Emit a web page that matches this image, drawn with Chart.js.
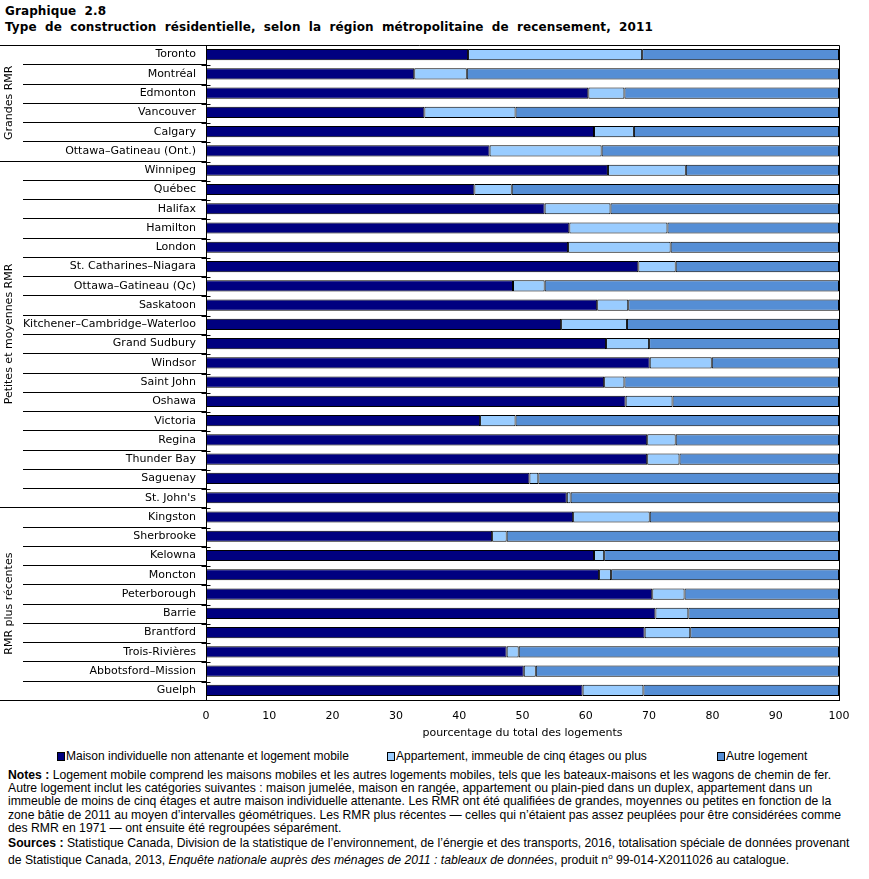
<!DOCTYPE html>
<html lang="fr">
<head>
<meta charset="utf-8">
<script src="https://cdn.jsdelivr.net/npm/chart.js@4.4.1/dist/chart.umd.min.js"></script>
<style>
  html, body { margin: 0; padding: 0; background: #fff; }
  body { width: 869px; height: 879px; position: relative; overflow: hidden; }
  #title { position: absolute; left: 5px; top: 3px; font: bold 12px "DejaVu Sans", Verdana, sans-serif; line-height: 16px; color: #000; word-spacing: 4px; letter-spacing: 0.1px; }
  #wrap { position: absolute; left: 0; top: 0; width: 869px; height: 745px; }
  #legend { position: absolute; top: 749px; left: 0; width: 869px; height: 16px; font: 12px "Liberation Sans", sans-serif; color: #000; }
  .li { position: absolute; top: 0; white-space: nowrap; }
  .sw { display: inline-block; width: 6px; height: 7px; border: 1px solid #000; margin-right: 1px; vertical-align: -1px; }
  #notes { position: absolute; left: 8px; top: 769px; font: 12.2px "Liberation Sans", sans-serif; line-height: 13.2px; color: #000; white-space: nowrap; }
  #notes p { margin: 0 0 2px 0; }
</style>
</head>
<body>
<div id="title">Graphique 2.8<br>Type de construction résidentielle, selon la région métropolitaine de recensement, 2011</div>
<div id="wrap"><canvas id="c" width="869" height="745"></canvas></div>
<div id="legend"></div>
<div id="notes">
<p><b>Notes :</b> Logement mobile comprend les maisons mobiles et les autres logements mobiles, tels que les bateaux-maisons et les wagons de chemin de fer.<br>
Autre logement inclut les catégories suivantes : maison jumelée, maison en rangée, appartement ou plain-pied dans un duplex, appartement dans un<br>
immeuble de moins de cinq étages et autre maison individuelle attenante. Les RMR ont été qualifiées de grandes, moyennes ou petites en fonction de la<br>
zone bâtie de 2011 au moyen d’intervalles géométriques. Les RMR plus récentes — celles qui n’étaient pas assez peuplées pour être considérées comme<br>
des RMR en 1971 — ont ensuite été regroupées séparément.</p>
<p><b>Sources :</b> Statistique Canada, Division de la statistique de l’environnement, de l’énergie et des transports, 2016, totalisation spéciale de données provenant<br>
de Statistique Canada, 2013, <i>Enquête nationale auprès des ménages de 2011 : tableaux de données</i>, produit n<sup style="font-size:8px">o</sup> 99-014-X2011026 au catalogue.</p>
</div>
<script>
const categories = [
  'Toronto', 'Montréal', 'Edmonton', 'Vancouver', 'Calgary', 'Ottawa–Gatineau (Ont.)',
  'Winnipeg', 'Québec', 'Halifax', 'Hamilton', 'London', 'St. Catharines–Niagara',
  'Ottawa–Gatineau (Qc)', 'Saskatoon', 'Kitchener–Cambridge–Waterloo', 'Grand Sudbury',
  'Windsor', 'Saint John', 'Oshawa', 'Victoria', 'Regina', 'Thunder Bay', 'Saguenay', "St. John's",
  'Kingston', 'Sherbrooke', 'Kelowna', 'Moncton', 'Peterborough', 'Barrie', 'Brantford',
  'Trois-Rivières', 'Abbotsford–Mission', 'Guelph'
];
const groupLabels = ['Grandes RMR', 'Petites et moyennes RMR', 'RMR plus récentes'];
const groupSizes = [6, 18, 10];

const seriesNames = [
  'Maison individuelle non attenante et logement mobile',
  'Appartement, immeuble de cinq étages ou plus',
  'Autre logement'
];
const maison = [41.4, 32.9, 60.4, 34.5, 61.3, 44.8,
  63.5, 42.4, 53.5, 57.4, 57.2, 68.3, 48.5, 61.8, 56.1, 63.2, 70.1, 62.9, 66.3, 43.3, 69.7, 69.7, 51.1, 57.0,
  58.0, 45.2, 61.3, 62.1, 70.5, 71.0, 69.3, 47.5, 50.2, 59.5];
const appartement = [27.5, 8.3, 5.7, 14.4, 6.3, 17.7,
  12.3, 5.9, 10.4, 15.5, 16.2, 5.9, 5.0, 4.9, 10.4, 6.8, 9.8, 3.2, 7.4, 5.6, 4.5, 5.1, 1.4, 0.6,
  12.1, 2.3, 1.6, 1.9, 5.1, 5.2, 7.2, 1.9, 1.9, 9.6];
const autre = [31.1, 58.8, 33.9, 51.1, 32.4, 37.5,
  24.2, 51.7, 36.1, 27.1, 26.6, 25.8, 46.5, 33.3, 33.5, 30.0, 20.1, 33.9, 26.3, 51.1, 25.8, 25.2, 47.5, 42.4,
  29.9, 52.5, 37.1, 36.0, 24.4, 23.8, 23.5, 50.6, 47.9, 30.9];
const xTicks = [0, 10, 20, 30, 40, 50, 60, 70, 80, 90, 100];
const xTitle = 'pourcentage du total des logements';

const colors = ['#000080', '#99ccff', '#558ed5'];
const FONT = '"DejaVu Sans", Verdana, sans-serif';

// legend
const legendLeft = [57, 387, 717];
const lg = document.getElementById('legend');
seriesNames.forEach((n, i) => {
  const d = document.createElement('div');
  d.className = 'li';
  d.style.left = legendLeft[i] + 'px';
  d.innerHTML = '<span class="sw" style="background:' + colors[i] + '"></span>' + n;
  lg.appendChild(d);
});

const framePlugin = {
  id: 'frame',
  afterDraw(chart) {
    const ctx = chart.ctx;
    const a = chart.chartArea;
    const n = categories.length;
    const h = (a.bottom - a.top) / n;
    ctx.save();
    ctx.strokeStyle = '#000';
    ctx.lineWidth = 1;
    const line = (x1, y1, x2, y2) => { ctx.beginPath(); ctx.moveTo(x1, y1); ctx.lineTo(x2, y2); ctx.stroke(); };
    const t = Math.round(a.top) + 0.5, b = Math.round(a.bottom) + 0.5;
    const l = Math.round(a.left) + 0.5, r = Math.round(a.right) + 0.5;
    line(0, t, r, t);
    line(0, b, r, b);
    line(l, t, l, b);
    line(r, t, r, b);
    const bounds = [];
    let acc = 0;
    groupSizes.forEach(s => { acc += s; bounds.push(acc); });
    for (let i = 1; i < n; i++) {
      const y = Math.round(a.top + i * h) + 0.5;
      const isGroup = bounds.includes(i);
      line(isGroup ? 0 : 23, y, l, y);
      line(l - 5, y + 1, l + 4, y + 1);
    }
    // group labels
    ctx.fillStyle = '#000';
    ctx.font = '11px ' + FONT;
    ctx.textAlign = 'center';
    ctx.textBaseline = 'middle';
    let start = 0;
    groupSizes.forEach((s, gi) => {
      const cy = a.top + (start + s / 2) * h;
      ctx.save();
      ctx.translate(9, cy);
      ctx.rotate(-Math.PI / 2);
      ctx.fillText(groupLabels[gi], 0, 0);
      ctx.restore();
      start += s;
    });
    ctx.restore();
  }
};

new Chart(document.getElementById('c'), {
  type: 'bar',
  data: {
    labels: categories,
    datasets: [maison, appartement, autre].map((d, i) => ({
      label: seriesNames[i],
      data: d,
      backgroundColor: colors[i],
      borderColor: '#000',
      borderWidth: 1,
      borderSkipped: false,
      barPercentage: 0.58,
      categoryPercentage: 1
    }))
  },
  options: {
    indexAxis: 'y',
    responsive: false,
    animation: false,
    devicePixelRatio: 1,
    layout: { padding: { top: 45, right: 30, left: 0, bottom: 0 } },
    plugins: { legend: { display: false }, tooltip: { enabled: false } },
    scales: {
      y: {
        stacked: true,
        grid: { display: false, drawTicks: false },
        border: { display: false },
        ticks: { color: '#000', font: { family: FONT, size: 11 }, padding: 10, autoSkip: false },
        afterFit(s) { s.width = 206; }
      },
      x: {
        stacked: true,
        min: 0, max: 100,
        afterBuildTicks(s) { s.ticks = xTicks.map(v => ({ value: v })); },
        grid: { display: false, drawTicks: false },
        border: { display: true, color: '#000' },
        ticks: { color: '#000', font: { family: FONT, size: 11 }, padding: 10, maxRotation: 0 },
        title: { display: true, text: xTitle, color: '#000', font: { family: FONT, size: 11 }, padding: { top: 2, bottom: 5 } },
        afterFit(s) { s.height = 45; }
      }
    }
  },
  plugins: [framePlugin]
});
</script>
</body>
</html>
